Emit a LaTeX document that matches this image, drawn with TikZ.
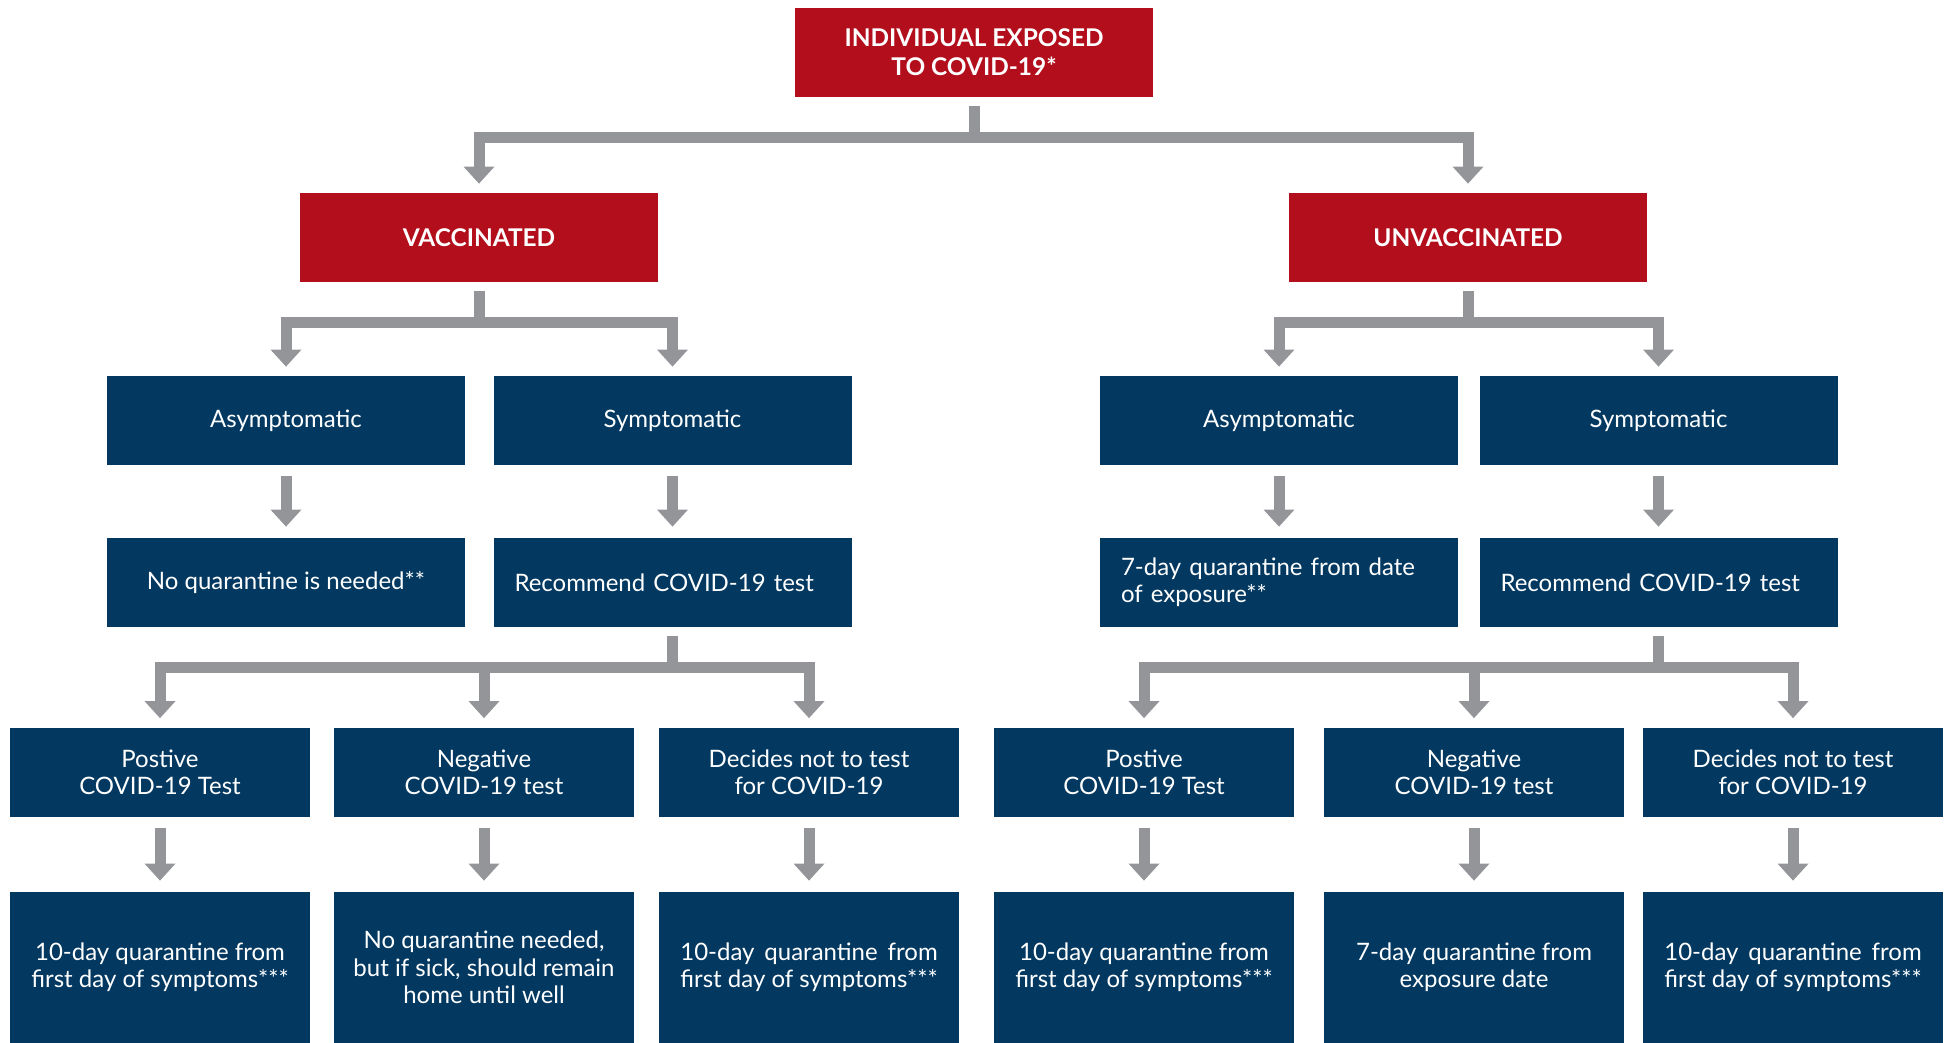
\documentclass[tikz,border=0pt]{standalone}
\usepackage{fontspec}
\setmainfont{Lato}
\usetikzlibrary{arrows.meta}

\definecolor{covred}{HTML}{B30E1B}
\definecolor{covblue}{HTML}{033961}
\definecolor{covgrey}{HTML}{939598}

\newlength{\spreadwd}
\newcommand{\spreadline}[2]{\settowidth{\spreadwd}{#2}\makebox[\spreadwd][s]{#1}\\#2}

\begin{document}
\begin{tikzpicture}[x=0.5pt,y=-0.5pt,
    redbox/.style={fill=covred,text=white,font=\bfseries\fontsize{12.2}{14.5}\selectfont,
        minimum width=179pt,minimum height=44.5pt,inner sep=0pt,align=center},
    bluebox/.style={fill=covblue,text=white,font=\fontsize{12}{13.7}\selectfont,
        minimum width=179pt,minimum height=44.5pt,inner sep=0pt,align=center},
    smallbox/.style={bluebox,minimum width=150pt},
    tallbox/.style={smallbox,minimum height=75.5pt},
    lefttext/.style={text width=158pt,align=left},
    link/.style={draw=covgrey,line width=5.5pt,
        -{Triangle[width=15.5pt,length=8.5pt,line width=0pt]},shorten <=4.5pt,shorten >=4.5pt},
    fork/.style={link,to path={(\tikztostart.south) -- ++(0,40) -| (\tikztotarget.north)}},
    godown/.style={link,shorten <=5.5pt,shorten >=5.5pt,
        to path={(\tikztostart.south) -- (\tikztotarget.north)}}]
    \useasboundingbox (0,0) rectangle (1953,1043);

    % top of the tree
    \node[redbox] (exp) at (974,52.5) {INDIVIDUAL EXPOSED\\TO COVID-19*};
    \node[redbox] (vac) at (479,237.5) {VACCINATED};
    \node[redbox] (unv) at (1468,237.5) {UNVACCINATED};

    % symptoms
    \node[bluebox] (va) at (286,420.5) {Asymptomatic};
    \node[bluebox] (vs) at (672.5,420.5) {Symptomatic};
    \node[bluebox] (ua) at (1279,420.5) {Asymptomatic};
    \node[bluebox] (us) at (1658.5,420.5) {Symptomatic};

    \node[bluebox] (vaq) at (286,582.5) {No quarantine is needed**};
    \node[bluebox,lefttext] (vst) at (672.5,582.5) {Recommend COVID-19 test};
    \node[bluebox,lefttext] (uaq) at (1279,582.5) {7-day quarantine from date\\of exposure**};
    \node[bluebox,lefttext] (ust) at (1658.5,582.5) {Recommend COVID-19 test};

    % test results
    \node[smallbox] (vpos) at (160,772) {Postive\\COVID-19 Test};
    \node[smallbox] (vneg) at (484,772) {Negative\\COVID-19 test};
    \node[smallbox] (vdec) at (809,772) {Decides not to test\\for COVID-19};
    \node[smallbox] (upos) at (1144,772) {Postive\\COVID-19 Test};
    \node[smallbox] (uneg) at (1474,772) {Negative\\COVID-19 test};
    \node[smallbox] (udec) at (1793,772) {Decides not to test\\for COVID-19};

    \node[tallbox] (vposq) at (160,967.5) {10-day quarantine from\\first day of symptoms***};
    \node[tallbox] (vnegq) at (484,967.5) {No quarantine needed,\\but if sick, should remain\\home until well};
    \node[tallbox] (vdecq) at (809,967.5) {\spreadline{10-day quarantine from}{first day of symptoms***}};
    \node[tallbox] (uposq) at (1144,967.5) {10-day quarantine from\\first day of symptoms***};
    \node[tallbox] (unegq) at (1474,967.5) {7-day quarantine from\\exposure date};
    \node[tallbox] (udecq) at (1793,967.5) {\spreadline{10-day quarantine from}{first day of symptoms***}};

    \path (exp) edge[fork] (vac) edge[fork] (unv)
          (vac) edge[fork] (va) edge[fork] (vs)
          (unv) edge[fork] (ua) edge[fork] (us)
          (va) edge[godown] (vaq)
          (vs) edge[godown] (vst)
          (ua) edge[godown] (uaq)
          (us) edge[godown] (ust)
          (vst) edge[fork] (vpos) edge[fork] (vneg) edge[fork] (vdec)
          (ust) edge[fork] (upos) edge[fork] (uneg) edge[fork] (udec)
          (vpos) edge[godown] (vposq)
          (vneg) edge[godown] (vnegq)
          (vdec) edge[godown] (vdecq)
          (upos) edge[godown] (uposq)
          (uneg) edge[godown] (unegq)
          (udec) edge[godown] (udecq);
\end{tikzpicture}
\end{document}
